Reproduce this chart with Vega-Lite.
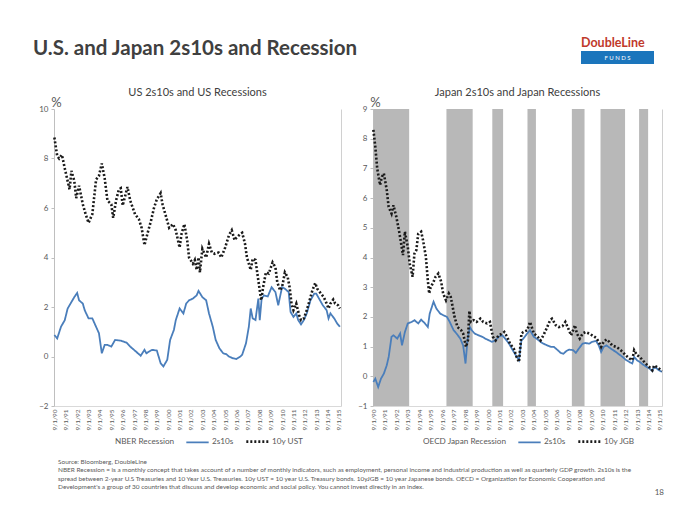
{
 "$schema": "https://vega.github.io/schema/vega-lite/v6.json",
 "background": "white",
 "padding": {"left": 33, "top": 36, "right": 5, "bottom": 5},
 "config": {
  "view": {"stroke": null},
  "font": "Lato",
  "axisX": {"labelAngle": 270, "labelFontSize": 6.5, "labelColor": "#595959", "ticks": false, "grid": false, "domainColor": "#d9d9d9", "labelPadding": 3, "labelOverlap": false, "labelFlush": false},
  "axisY": {"grid": false},
  "legend": {"title": null, "orient": "none", "direction": "horizontal", "symbolType": "stroke", "symbolSize": 500, "labelFontSize": 8.2, "labelColor": "#595959", "columnPadding": 7, "labelOffset": 2}
 },
 "datasets": {
  "us": [
   {"d":"1990/09/01","s":"2s10s","v":0.87},{"d":"1990/12/01","s":"2s10s","v":0.73},{"d":"1991/04/01","s":"2s10s","v":1.2},{"d":"1991/08/01","s":"2s10s","v":1.47},{"d":"1991/11/01","s":"2s10s","v":1.94},{"d":"1992/03/01","s":"2s10s","v":2.2},{"d":"1992/06/01","s":"2s10s","v":2.4},{"d":"1992/09/01","s":"2s10s","v":2.57},{"d":"1992/11/01","s":"2s10s","v":2.27},{"d":"1993/03/01","s":"2s10s","v":2.14},{"d":"1993/05/01","s":"2s10s","v":1.87},{"d":"1993/09/01","s":"2s10s","v":1.54},{"d":"1994/01/01","s":"2s10s","v":1.54},{"d":"1994/05/01","s":"2s10s","v":1.2},{"d":"1994/08/01","s":"2s10s","v":0.94},{"d":"1994/11/01","s":"2s10s","v":0.13},{"d":"1995/02/01","s":"2s10s","v":0.47},{"d":"1995/05/01","s":"2s10s","v":0.47},{"d":"1995/09/01","s":"2s10s","v":0.4},{"d":"1996/01/01","s":"2s10s","v":0.67},{"d":"1996/07/01","s":"2s10s","v":0.64},{"d":"1997/01/01","s":"2s10s","v":0.56},{"d":"1997/05/01","s":"2s10s","v":0.4},{"d":"1997/11/01","s":"2s10s","v":0.2},{"d":"1998/04/01","s":"2s10s","v":0.03},{"d":"1998/08/01","s":"2s10s","v":0.27},{"d":"1998/10/01","s":"2s10s","v":0.13},{"d":"1999/04/01","s":"2s10s","v":0.27},{"d":"1999/09/01","s":"2s10s","v":0.24},{"d":"2000/01/01","s":"2s10s","v":-0.27},{"d":"2000/04/01","s":"2s10s","v":-0.4},{"d":"2000/08/01","s":"2s10s","v":-0.13},{"d":"2000/11/01","s":"2s10s","v":0.67},{"d":"2001/03/01","s":"2s10s","v":1.07},{"d":"2001/05/01","s":"2s10s","v":1.47},{"d":"2001/09/01","s":"2s10s","v":1.94},{"d":"2002/01/01","s":"2s10s","v":1.74},{"d":"2002/04/01","s":"2s10s","v":2.14},{"d":"2002/07/01","s":"2s10s","v":2.27},{"d":"2002/11/01","s":"2s10s","v":2.34},{"d":"2003/03/01","s":"2s10s","v":2.47},{"d":"2003/05/01","s":"2s10s","v":2.65},{"d":"2003/09/01","s":"2s10s","v":2.4},{"d":"2004/01/01","s":"2s10s","v":2.27},{"d":"2004/04/01","s":"2s10s","v":1.74},{"d":"2004/08/01","s":"2s10s","v":1.2},{"d":"2004/11/01","s":"2s10s","v":0.67},{"d":"2005/03/01","s":"2s10s","v":0.33},{"d":"2005/07/01","s":"2s10s","v":0.13},{"d":"2005/10/01","s":"2s10s","v":0.1},{"d":"2006/01/01","s":"2s10s","v":0.0},{"d":"2006/05/01","s":"2s10s","v":-0.07},{"d":"2006/09/01","s":"2s10s","v":-0.1},{"d":"2007/01/01","s":"2s10s","v":0.0},{"d":"2007/03/01","s":"2s10s","v":0.07},{"d":"2007/07/01","s":"2s10s","v":0.53},{"d":"2007/10/01","s":"2s10s","v":1.2},{"d":"2007/12/01","s":"2s10s","v":1.94},{"d":"2008/02/01","s":"2s10s","v":1.54},{"d":"2008/05/01","s":"2s10s","v":1.47},{"d":"2008/08/01","s":"2s10s","v":2.34},{"d":"2008/09/15","s":"2s10s","v":1.47},{"d":"2008/11/15","s":"2s10s","v":2.34},{"d":"2009/02/01","s":"2s10s","v":2.47},{"d":"2009/06/01","s":"2s10s","v":2.43},{"d":"2009/10/01","s":"2s10s","v":2.8},{"d":"2010/02/01","s":"2s10s","v":2.6},{"d":"2010/05/01","s":"2s10s","v":2.07},{"d":"2010/09/01","s":"2s10s","v":2.8},{"d":"2010/12/01","s":"2s10s","v":2.74},{"d":"2011/04/01","s":"2s10s","v":2.6},{"d":"2011/06/01","s":"2s10s","v":1.8},{"d":"2011/09/01","s":"2s10s","v":1.6},{"d":"2011/12/01","s":"2s10s","v":1.74},{"d":"2012/02/01","s":"2s10s","v":1.47},{"d":"2012/05/01","s":"2s10s","v":1.3},{"d":"2012/08/01","s":"2s10s","v":1.47},{"d":"2012/11/01","s":"2s10s","v":1.74},{"d":"2013/03/01","s":"2s10s","v":2.27},{"d":"2013/07/01","s":"2s10s","v":2.54},{"d":"2013/09/01","s":"2s10s","v":2.54},{"d":"2014/01/01","s":"2s10s","v":2.27},{"d":"2014/04/01","s":"2s10s","v":2.07},{"d":"2014/08/01","s":"2s10s","v":1.87},{"d":"2014/10/01","s":"2s10s","v":1.54},{"d":"2014/12/01","s":"2s10s","v":1.74},{"d":"2015/04/01","s":"2s10s","v":1.54},{"d":"2015/07/01","s":"2s10s","v":1.34},{"d":"2015/10/01","s":"2s10s","v":1.2},
   {"d":"1990/09/01","s":"10y UST","v":8.85},{"d":"1990/12/01","s":"10y UST","v":8.1},{"d":"1991/02/01","s":"10y UST","v":8.0},{"d":"1991/05/01","s":"10y UST","v":8.15},{"d":"1991/08/01","s":"10y UST","v":7.6},{"d":"1992/01/01","s":"10y UST","v":6.75},{"d":"1992/03/01","s":"10y UST","v":7.5},{"d":"1992/06/01","s":"10y UST","v":7.1},{"d":"1992/08/01","s":"10y UST","v":6.4},{"d":"1992/11/01","s":"10y UST","v":6.9},{"d":"1993/03/01","s":"10y UST","v":6.15},{"d":"1993/06/01","s":"10y UST","v":5.75},{"d":"1993/09/01","s":"10y UST","v":5.4},{"d":"1994/01/01","s":"10y UST","v":5.75},{"d":"1994/05/01","s":"10y UST","v":7.15},{"d":"1994/08/01","s":"10y UST","v":7.3},{"d":"1994/11/01","s":"10y UST","v":7.8},{"d":"1995/02/01","s":"10y UST","v":7.2},{"d":"1995/05/01","s":"10y UST","v":6.3},{"d":"1995/09/01","s":"10y UST","v":6.15},{"d":"1995/11/01","s":"10y UST","v":5.6},{"d":"1996/02/01","s":"10y UST","v":6.3},{"d":"1996/05/01","s":"10y UST","v":6.75},{"d":"1996/07/01","s":"10y UST","v":6.8},{"d":"1996/09/01","s":"10y UST","v":6.1},{"d":"1997/02/01","s":"10y UST","v":6.85},{"d":"1997/05/01","s":"10y UST","v":6.3},{"d":"1997/10/01","s":"10y UST","v":5.75},{"d":"1998/02/01","s":"10y UST","v":5.55},{"d":"1998/05/01","s":"10y UST","v":5.2},{"d":"1998/08/01","s":"10y UST","v":4.5},{"d":"1998/11/01","s":"10y UST","v":4.95},{"d":"1999/03/01","s":"10y UST","v":5.5},{"d":"1999/06/01","s":"10y UST","v":6.0},{"d":"1999/09/01","s":"10y UST","v":6.35},{"d":"2000/01/01","s":"10y UST","v":6.6},{"d":"2000/03/01","s":"10y UST","v":6.15},{"d":"2000/06/01","s":"10y UST","v":5.75},{"d":"2000/10/01","s":"10y UST","v":5.2},{"d":"2001/02/01","s":"10y UST","v":5.35},{"d":"2001/05/01","s":"10y UST","v":5.1},{"d":"2001/09/01","s":"10y UST","v":4.4},{"d":"2001/11/01","s":"10y UST","v":4.95},{"d":"2002/02/01","s":"10y UST","v":5.35},{"d":"2002/05/01","s":"10y UST","v":4.7},{"d":"2002/07/01","s":"10y UST","v":4.0},{"d":"2002/11/01","s":"10y UST","v":3.75},{"d":"2003/01/01","s":"10y UST","v":3.9},{"d":"2003/03/01","s":"10y UST","v":3.5},{"d":"2003/05/01","s":"10y UST","v":4.0},{"d":"2003/06/15","s":"10y UST","v":3.4},{"d":"2003/09/01","s":"10y UST","v":4.35},{"d":"2004/01/01","s":"10y UST","v":4.0},{"d":"2004/04/01","s":"10y UST","v":4.55},{"d":"2004/07/01","s":"10y UST","v":4.2},{"d":"2004/10/01","s":"10y UST","v":4.15},{"d":"2005/02/01","s":"10y UST","v":4.2},{"d":"2005/05/01","s":"10y UST","v":4.0},{"d":"2005/09/01","s":"10y UST","v":4.4},{"d":"2006/01/01","s":"10y UST","v":4.9},{"d":"2006/04/01","s":"10y UST","v":5.1},{"d":"2006/07/01","s":"10y UST","v":4.7},{"d":"2006/09/01","s":"10y UST","v":4.8},{"d":"2007/01/01","s":"10y UST","v":4.95},{"d":"2007/03/01","s":"10y UST","v":5.0},{"d":"2007/06/01","s":"10y UST","v":4.55},{"d":"2007/08/01","s":"10y UST","v":4.0},{"d":"2007/12/01","s":"10y UST","v":3.5},{"d":"2008/02/01","s":"10y UST","v":3.95},{"d":"2008/05/01","s":"10y UST","v":3.9},{"d":"2008/07/01","s":"10y UST","v":3.35},{"d":"2008/09/01","s":"10y UST","v":2.8},{"d":"2008/11/01","s":"10y UST","v":2.27},{"d":"2009/01/01","s":"10y UST","v":2.8},{"d":"2009/04/01","s":"10y UST","v":3.4},{"d":"2009/07/01","s":"10y UST","v":3.35},{"d":"2009/11/01","s":"10y UST","v":3.8},{"d":"2010/02/01","s":"10y UST","v":3.6},{"d":"2010/04/01","s":"10y UST","v":3.0},{"d":"2010/07/01","s":"10y UST","v":2.67},{"d":"2010/09/01","s":"10y UST","v":2.8},{"d":"2010/12/01","s":"10y UST","v":3.4},{"d":"2011/03/01","s":"10y UST","v":3.2},{"d":"2011/05/01","s":"10y UST","v":2.8},{"d":"2011/07/01","s":"10y UST","v":2.14},{"d":"2011/09/01","s":"10y UST","v":1.87},{"d":"2011/12/01","s":"10y UST","v":2.14},{"d":"2012/03/01","s":"10y UST","v":1.67},{"d":"2012/05/01","s":"10y UST","v":1.47},{"d":"2012/08/01","s":"10y UST","v":1.54},{"d":"2012/11/01","s":"10y UST","v":1.87},{"d":"2013/02/01","s":"10y UST","v":2.27},{"d":"2013/05/01","s":"10y UST","v":2.67},{"d":"2013/08/01","s":"10y UST","v":2.97},{"d":"2013/10/01","s":"10y UST","v":2.74},{"d":"2014/02/01","s":"10y UST","v":2.54},{"d":"2014/05/01","s":"10y UST","v":2.4},{"d":"2014/08/01","s":"10y UST","v":2.14},{"d":"2014/10/01","s":"10y UST","v":1.94},{"d":"2014/12/01","s":"10y UST","v":2.14},{"d":"2015/03/01","s":"10y UST","v":2.3},{"d":"2015/05/01","s":"10y UST","v":2.14},{"d":"2015/08/01","s":"10y UST","v":2.07},{"d":"2015/10/01","s":"10y UST","v":1.94}
  ],
  "jp": [
   {"d":"1990/09/01","s":"2s10s","v":-0.19},{"d":"1990/11/01","s":"2s10s","v":-0.08},{"d":"1991/02/01","s":"2s10s","v":-0.36},{"d":"1991/05/01","s":"2s10s","v":-0.08},{"d":"1991/08/01","s":"2s10s","v":0.09},{"d":"1991/11/01","s":"2s10s","v":0.37},{"d":"1992/01/01","s":"2s10s","v":0.65},{"d":"1992/04/01","s":"2s10s","v":1.33},{"d":"1992/06/01","s":"2s10s","v":1.38},{"d":"1992/10/01","s":"2s10s","v":1.27},{"d":"1993/01/01","s":"2s10s","v":1.44},{"d":"1993/03/01","s":"2s10s","v":1.04},{"d":"1993/06/01","s":"2s10s","v":1.49},{"d":"1993/09/01","s":"2s10s","v":1.78},{"d":"1994/01/01","s":"2s10s","v":1.83},{"d":"1994/04/01","s":"2s10s","v":1.89},{"d":"1994/08/01","s":"2s10s","v":1.78},{"d":"1994/11/01","s":"2s10s","v":1.91},{"d":"1995/03/01","s":"2s10s","v":1.78},{"d":"1995/06/01","s":"2s10s","v":1.66},{"d":"1995/08/01","s":"2s10s","v":2.11},{"d":"1995/12/01","s":"2s10s","v":2.51},{"d":"1996/03/01","s":"2s10s","v":2.28},{"d":"1996/07/01","s":"2s10s","v":2.11},{"d":"1996/10/01","s":"2s10s","v":2.06},{"d":"1997/02/01","s":"2s10s","v":2.0},{"d":"1997/05/01","s":"2s10s","v":1.83},{"d":"1997/09/01","s":"2s10s","v":1.55},{"d":"1997/12/01","s":"2s10s","v":1.44},{"d":"1998/04/01","s":"2s10s","v":1.27},{"d":"1998/07/01","s":"2s10s","v":1.04},{"d":"1998/09/15","s":"2s10s","v":0.43},{"d":"1998/11/15","s":"2s10s","v":1.21},{"d":"1999/02/01","s":"2s10s","v":1.66},{"d":"1999/04/01","s":"2s10s","v":1.55},{"d":"1999/07/01","s":"2s10s","v":1.44},{"d":"1999/11/01","s":"2s10s","v":1.38},{"d":"2000/03/01","s":"2s10s","v":1.33},{"d":"2000/06/01","s":"2s10s","v":1.27},{"d":"2000/10/01","s":"2s10s","v":1.21},{"d":"2001/01/01","s":"2s10s","v":1.16},{"d":"2001/05/01","s":"2s10s","v":1.21},{"d":"2001/08/01","s":"2s10s","v":1.33},{"d":"2001/12/01","s":"2s10s","v":1.38},{"d":"2002/03/01","s":"2s10s","v":1.27},{"d":"2002/07/01","s":"2s10s","v":1.1},{"d":"2002/10/01","s":"2s10s","v":0.93},{"d":"2003/02/01","s":"2s10s","v":0.71},{"d":"2003/05/15","s":"2s10s","v":0.54},{"d":"2003/08/01","s":"2s10s","v":1.21},{"d":"2003/10/01","s":"2s10s","v":1.27},{"d":"2004/02/01","s":"2s10s","v":1.44},{"d":"2004/05/01","s":"2s10s","v":1.55},{"d":"2004/09/01","s":"2s10s","v":1.33},{"d":"2005/01/01","s":"2s10s","v":1.24},{"d":"2005/04/01","s":"2s10s","v":1.16},{"d":"2005/07/01","s":"2s10s","v":1.1},{"d":"2005/11/01","s":"2s10s","v":1.04},{"d":"2006/03/01","s":"2s10s","v":0.99},{"d":"2006/06/01","s":"2s10s","v":0.99},{"d":"2006/10/01","s":"2s10s","v":0.88},{"d":"2007/01/01","s":"2s10s","v":0.79},{"d":"2007/04/01","s":"2s10s","v":0.76},{"d":"2007/07/01","s":"2s10s","v":0.85},{"d":"2007/10/01","s":"2s10s","v":0.9},{"d":"2008/02/01","s":"2s10s","v":0.88},{"d":"2008/05/01","s":"2s10s","v":0.79},{"d":"2008/08/01","s":"2s10s","v":0.93},{"d":"2008/12/01","s":"2s10s","v":1.1},{"d":"2009/03/01","s":"2s10s","v":1.12},{"d":"2009/07/01","s":"2s10s","v":1.1},{"d":"2009/10/01","s":"2s10s","v":1.16},{"d":"2010/02/01","s":"2s10s","v":1.19},{"d":"2010/05/01","s":"2s10s","v":1.04},{"d":"2010/07/15","s":"2s10s","v":0.82},{"d":"2010/10/01","s":"2s10s","v":0.99},{"d":"2011/01/01","s":"2s10s","v":1.04},{"d":"2011/04/01","s":"2s10s","v":0.97},{"d":"2011/07/01","s":"2s10s","v":0.9},{"d":"2011/11/01","s":"2s10s","v":0.82},{"d":"2012/02/01","s":"2s10s","v":0.74},{"d":"2012/06/01","s":"2s10s","v":0.65},{"d":"2012/09/01","s":"2s10s","v":0.56},{"d":"2013/01/01","s":"2s10s","v":0.48},{"d":"2013/04/01","s":"2s10s","v":0.43},{"d":"2013/06/01","s":"2s10s","v":0.65},{"d":"2013/09/01","s":"2s10s","v":0.54},{"d":"2013/12/01","s":"2s10s","v":0.48},{"d":"2014/03/01","s":"2s10s","v":0.4},{"d":"2014/06/01","s":"2s10s","v":0.34},{"d":"2014/10/01","s":"2s10s","v":0.26},{"d":"2015/01/01","s":"2s10s","v":0.18},{"d":"2015/03/01","s":"2s10s","v":0.31},{"d":"2015/06/01","s":"2s10s","v":0.26},{"d":"2015/08/01","s":"2s10s","v":0.2},{"d":"2015/11/01","s":"2s10s","v":0.15},
   {"d":"1990/09/01","s":"10y JGB","v":8.3},{"d":"1990/11/01","s":"10y JGB","v":7.73},{"d":"1991/01/01","s":"10y JGB","v":7.0},{"d":"1991/04/01","s":"10y JGB","v":6.44},{"d":"1991/06/01","s":"10y JGB","v":6.72},{"d":"1991/08/01","s":"10y JGB","v":6.83},{"d":"1991/11/01","s":"10y JGB","v":6.27},{"d":"1992/01/01","s":"10y JGB","v":5.7},{"d":"1992/04/01","s":"10y JGB","v":5.48},{"d":"1992/06/01","s":"10y JGB","v":5.76},{"d":"1992/09/01","s":"10y JGB","v":5.37},{"d":"1992/12/01","s":"10y JGB","v":4.87},{"d":"1993/02/01","s":"10y JGB","v":4.47},{"d":"1993/04/01","s":"10y JGB","v":4.08},{"d":"1993/06/01","s":"10y JGB","v":4.87},{"d":"1993/09/01","s":"10y JGB","v":4.36},{"d":"1993/11/01","s":"10y JGB","v":3.8},{"d":"1994/02/01","s":"10y JGB","v":3.35},{"d":"1994/04/01","s":"10y JGB","v":4.13},{"d":"1994/06/01","s":"10y JGB","v":4.25},{"d":"1994/08/01","s":"10y JGB","v":4.8},{"d":"1994/11/01","s":"10y JGB","v":4.87},{"d":"1995/01/01","s":"10y JGB","v":4.58},{"d":"1995/04/01","s":"10y JGB","v":4.02},{"d":"1995/06/01","s":"10y JGB","v":3.24},{"d":"1995/07/15","s":"10y JGB","v":2.79},{"d":"1995/09/01","s":"10y JGB","v":3.0},{"d":"1995/12/01","s":"10y JGB","v":3.18},{"d":"1996/02/01","s":"10y JGB","v":3.35},{"d":"1996/05/01","s":"10y JGB","v":3.46},{"d":"1996/08/01","s":"10y JGB","v":3.18},{"d":"1996/10/01","s":"10y JGB","v":2.79},{"d":"1997/01/01","s":"10y JGB","v":2.56},{"d":"1997/04/01","s":"10y JGB","v":2.79},{"d":"1997/06/01","s":"10y JGB","v":2.67},{"d":"1997/08/01","s":"10y JGB","v":2.34},{"d":"1997/10/01","s":"10y JGB","v":2.0},{"d":"1998/01/01","s":"10y JGB","v":1.66},{"d":"1998/05/01","s":"10y JGB","v":1.55},{"d":"1998/07/01","s":"10y JGB","v":1.44},{"d":"1998/10/01","s":"10y JGB","v":0.99},{"d":"1998/12/01","s":"10y JGB","v":1.21},{"d":"1999/01/15","s":"10y JGB","v":2.2},{"d":"1999/03/01","s":"10y JGB","v":1.83},{"d":"1999/06/01","s":"10y JGB","v":1.89},{"d":"1999/09/01","s":"10y JGB","v":1.83},{"d":"2000/01/01","s":"10y JGB","v":1.94},{"d":"2000/04/01","s":"10y JGB","v":1.83},{"d":"2000/08/01","s":"10y JGB","v":1.78},{"d":"2000/11/01","s":"10y JGB","v":1.83},{"d":"2001/02/01","s":"10y JGB","v":1.33},{"d":"2001/05/01","s":"10y JGB","v":1.21},{"d":"2001/08/01","s":"10y JGB","v":1.38},{"d":"2001/12/01","s":"10y JGB","v":1.44},{"d":"2002/02/01","s":"10y JGB","v":1.49},{"d":"2002/05/01","s":"10y JGB","v":1.33},{"d":"2002/08/01","s":"10y JGB","v":1.1},{"d":"2002/12/01","s":"10y JGB","v":0.93},{"d":"2003/03/01","s":"10y JGB","v":0.65},{"d":"2003/05/15","s":"10y JGB","v":0.48},{"d":"2003/08/01","s":"10y JGB","v":1.44},{"d":"2003/10/01","s":"10y JGB","v":1.49},{"d":"2004/02/01","s":"10y JGB","v":1.55},{"d":"2004/05/01","s":"10y JGB","v":1.83},{"d":"2004/09/01","s":"10y JGB","v":1.44},{"d":"2005/01/01","s":"10y JGB","v":1.33},{"d":"2005/04/01","s":"10y JGB","v":1.21},{"d":"2005/07/01","s":"10y JGB","v":1.38},{"d":"2005/11/01","s":"10y JGB","v":1.66},{"d":"2006/02/01","s":"10y JGB","v":1.89},{"d":"2006/04/01","s":"10y JGB","v":1.94},{"d":"2006/08/01","s":"10y JGB","v":1.72},{"d":"2006/11/01","s":"10y JGB","v":1.66},{"d":"2007/03/01","s":"10y JGB","v":1.69},{"d":"2007/06/01","s":"10y JGB","v":1.83},{"d":"2007/09/01","s":"10y JGB","v":1.61},{"d":"2007/12/01","s":"10y JGB","v":1.38},{"d":"2008/02/01","s":"10y JGB","v":1.55},{"d":"2008/04/01","s":"10y JGB","v":1.72},{"d":"2008/06/01","s":"10y JGB","v":1.44},{"d":"2008/09/01","s":"10y JGB","v":1.27},{"d":"2008/12/01","s":"10y JGB","v":1.44},{"d":"2009/03/01","s":"10y JGB","v":1.49},{"d":"2009/07/01","s":"10y JGB","v":1.44},{"d":"2009/10/01","s":"10y JGB","v":1.38},{"d":"2010/02/01","s":"10y JGB","v":1.3},{"d":"2010/05/01","s":"10y JGB","v":1.16},{"d":"2010/07/15","s":"10y JGB","v":0.99},{"d":"2010/10/01","s":"10y JGB","v":1.16},{"d":"2011/01/01","s":"10y JGB","v":1.24},{"d":"2011/04/01","s":"10y JGB","v":1.16},{"d":"2011/07/01","s":"10y JGB","v":1.04},{"d":"2011/11/01","s":"10y JGB","v":0.99},{"d":"2012/02/01","s":"10y JGB","v":0.93},{"d":"2012/06/01","s":"10y JGB","v":0.82},{"d":"2012/09/01","s":"10y JGB","v":0.71},{"d":"2013/01/01","s":"10y JGB","v":0.6},{"d":"2013/04/01","s":"10y JGB","v":0.54},{"d":"2013/06/01","s":"10y JGB","v":0.88},{"d":"2013/09/01","s":"10y JGB","v":0.71},{"d":"2013/12/01","s":"10y JGB","v":0.65},{"d":"2014/03/01","s":"10y JGB","v":0.54},{"d":"2014/06/01","s":"10y JGB","v":0.43},{"d":"2014/10/01","s":"10y JGB","v":0.31},{"d":"2015/01/01","s":"10y JGB","v":0.2},{"d":"2015/03/01","s":"10y JGB","v":0.37},{"d":"2015/06/01","s":"10y JGB","v":0.31},{"d":"2015/08/01","s":"10y JGB","v":0.26},{"d":"2015/11/01","s":"10y JGB","v":0.18}
  ],
  "jpRec": [
   {"a":"1990/09/01","b":"1993/10/15"},{"a":"1997/01/15","b":"1999/05/01"},{"a":"2001/01/15","b":"2001/12/25"},{"a":"2004/02/10","b":"2004/11/05"},{"a":"2007/12/25","b":"2009/02/01"},{"a":"2010/06/25","b":"2012/08/15"},{"a":"2013/11/05","b":"2014/08/20"}
  ],
  "notes": [
   {"line": 1, "t": "Source: Bloomberg, DoubleLine"},
   {"line": 2, "t": "NBER Recession = is a monthly concept that takes account of a number of monthly indicators, such as employment, personal income and industrial production as well as quarterly GDP growth. 2s10s is the"},
   {"line": 3, "t": "spread between 2-year U.S Treasuries and 10 Year U.S. Treasuries. 10y UST = 10 year U.S. Treasury bonds. 10yJGB = 10 year Japanese bonds. OECD = Organization for Economic Cooperation and"},
   {"line": 4, "t": "Development's a group of 30 countries that discuss and develop economic and social policy. You cannot invest directly in an index."}
  ]
 },
 "vconcat": [
  {
   "hconcat": [
    {
     "width": 517, "height": 13,
     "title": {"text": "U.S. and Japan 2s10s and Recession", "anchor": "start", "fontSize": 20.5, "fontWeight": "bold", "color": "#404040", "offset": -8, "dx": -21},
     "data": {"values": []},
     "mark": "text"
    },
    {
     "width": 73, "height": 13,
     "view": {"fill": "#1b75bc", "stroke": null},
     "title": {"text": "DoubleLine", "anchor": "start", "fontSize": 12.5, "fontWeight": "bold", "color": "#c0392b", "offset": 2},
     "data": {"values": [{"t": "F    U    N    D    S"}]},
     "mark": {"type": "text", "color": "white", "fontSize": 6},
     "encoding": {"text": {"field": "t"}}
    }
   ],
   "spacing": 10
  },
  {
   "vconcat": [
    {
     "hconcat": [
      {
       "width": 287, "height": 297,
       "title": {"text": "US 2s10s and US Recessions", "fontSize": 11, "fontWeight": "normal", "color": "#404040", "offset": -2},
       "layer": [
        {
         "mark": {"type": "rule", "color": "#a6a6a6", "strokeWidth": 0.8},
         "encoding": {"y": {"datum": 0, "type": "quantitative", "axis": {"orient": "right", "labels": false, "ticks": false, "title": null, "grid": false, "domainColor": "#d0d0d0"}}}
        },
        {
         "data": {"name": "us"},
         "mark": {"type": "line", "strokeCap": "butt"},
         "encoding": {
          "x": {"field": "d", "type": "temporal",
                "scale": {"domain": [{"year": 1990, "month": 8, "date": 20}, {"year": 2015, "month": 11, "date": 5}]},
                "axis": {"title": null, "format": "%-m/%-d/%y", "values": [{"year":1990,"month":9,"date":1},{"year":1991,"month":9,"date":1},{"year":1992,"month":9,"date":1},{"year":1993,"month":9,"date":1},{"year":1994,"month":9,"date":1},{"year":1995,"month":9,"date":1},{"year":1996,"month":9,"date":1},{"year":1997,"month":9,"date":1},{"year":1998,"month":9,"date":1},{"year":1999,"month":9,"date":1},{"year":2000,"month":9,"date":1},{"year":2001,"month":9,"date":1},{"year":2002,"month":9,"date":1},{"year":2003,"month":9,"date":1},{"year":2004,"month":9,"date":1},{"year":2005,"month":9,"date":1},{"year":2006,"month":9,"date":1},{"year":2007,"month":9,"date":1},{"year":2008,"month":9,"date":1},{"year":2009,"month":9,"date":1},{"year":2010,"month":9,"date":1},{"year":2011,"month":9,"date":1},{"year":2012,"month":9,"date":1},{"year":2013,"month":9,"date":1},{"year":2014,"month":9,"date":1},{"year":2015,"month":9,"date":1}]}},
          "y": {"field": "v", "type": "quantitative", "scale": {"domain": [-2, 10], "nice": false},
                "axis": {"values": [-2, 0, 2, 4, 6, 8, 10], "title": "%", "titleAngle": 0, "titleX": 2, "titleY": -3, "titleAlign": "center", "titleBaseline": "alphabetic", "titleFontSize": 13, "titleFontWeight": "normal", "titleColor": "#595959", "labelFontSize": 8, "labelColor": "#595959", "tickSize": 3, "tickColor": "#bfbfbf", "domainColor": "#bfbfbf", "grid": false, "labelPadding": 3}},
          "color": {"field": "s", "type": "nominal", "scale": {"domain": ["NBER Recession", "2s10s", "10y UST"], "range": ["rgba(255,255,255,0)", "#4a7ebb", "#1a1a1a"]}, "legend": {"legendX": 35, "legendY": 320}},
          "strokeDash": {"field": "s", "type": "nominal", "scale": {"domain": ["NBER Recession", "2s10s", "10y UST"], "range": [[1, 0], [1, 0], [2, 2]]}, "legend": {"legendX": 35, "legendY": 320}},
          "strokeWidth": {"field": "s", "type": "ordinal", "scale": {"domain": ["NBER Recession", "2s10s", "10y UST"], "range": [1, 2.6, 2]}, "legend": {"legendX": 35, "legendY": 320}}
         }
        }
       ],
       "resolve": {"axis": {"y": "independent"}}
      },
      {
       "width": 289, "height": 297,
       "title": {"text": "Japan 2s10s and Japan Recessions", "fontSize": 11, "fontWeight": "normal", "color": "#404040", "offset": -2},
       "layer": [
        {
         "data": {"name": "jpRec"},
         "mark": {"type": "rect", "color": "#b8b8b8"},
         "encoding": {
          "x": {"field": "a", "type": "temporal",
                "scale": {"domain": [{"year": 1990, "month": 8, "date": 20}, {"year": 2015, "month": 11, "date": 5}]},
                "axis": {"title": null, "format": "%-m/%-d/%y", "values": [{"year":1990,"month":9,"date":1},{"year":1991,"month":9,"date":1},{"year":1992,"month":9,"date":1},{"year":1993,"month":9,"date":1},{"year":1994,"month":9,"date":1},{"year":1995,"month":9,"date":1},{"year":1996,"month":9,"date":1},{"year":1997,"month":9,"date":1},{"year":1998,"month":9,"date":1},{"year":1999,"month":9,"date":1},{"year":2000,"month":9,"date":1},{"year":2001,"month":9,"date":1},{"year":2002,"month":9,"date":1},{"year":2003,"month":9,"date":1},{"year":2004,"month":9,"date":1},{"year":2005,"month":9,"date":1},{"year":2006,"month":9,"date":1},{"year":2007,"month":9,"date":1},{"year":2008,"month":9,"date":1},{"year":2009,"month":9,"date":1},{"year":2010,"month":9,"date":1},{"year":2011,"month":9,"date":1},{"year":2012,"month":9,"date":1},{"year":2013,"month":9,"date":1},{"year":2014,"month":9,"date":1},{"year":2015,"month":9,"date":1}]}},
          "x2": {"field": "b"}
         }
        },
        {
         "mark": {"type": "rule", "color": "#a6a6a6", "strokeWidth": 0.8},
         "encoding": {"y": {"datum": 0, "type": "quantitative", "axis": {"orient": "right", "labels": false, "ticks": false, "title": null, "grid": false, "domainColor": "#d0d0d0"}}}
        },
        {
         "data": {"name": "jp"},
         "mark": {"type": "line", "strokeCap": "butt"},
         "encoding": {
          "x": {"field": "d", "type": "temporal",
                "axis": {"title": null, "format": "%-m/%-d/%y", "values": [{"year":1990,"month":9,"date":1},{"year":1991,"month":9,"date":1},{"year":1992,"month":9,"date":1},{"year":1993,"month":9,"date":1},{"year":1994,"month":9,"date":1},{"year":1995,"month":9,"date":1},{"year":1996,"month":9,"date":1},{"year":1997,"month":9,"date":1},{"year":1998,"month":9,"date":1},{"year":1999,"month":9,"date":1},{"year":2000,"month":9,"date":1},{"year":2001,"month":9,"date":1},{"year":2002,"month":9,"date":1},{"year":2003,"month":9,"date":1},{"year":2004,"month":9,"date":1},{"year":2005,"month":9,"date":1},{"year":2006,"month":9,"date":1},{"year":2007,"month":9,"date":1},{"year":2008,"month":9,"date":1},{"year":2009,"month":9,"date":1},{"year":2010,"month":9,"date":1},{"year":2011,"month":9,"date":1},{"year":2012,"month":9,"date":1},{"year":2013,"month":9,"date":1},{"year":2014,"month":9,"date":1},{"year":2015,"month":9,"date":1}]}},
          "y": {"field": "v", "type": "quantitative", "scale": {"domain": [-1, 9], "nice": false},
                "axis": {"values": [-1, 0, 1, 2, 3, 4, 5, 6, 7, 8, 9], "title": "%", "titleAngle": 0, "titleX": 2, "titleY": -3, "titleAlign": "center", "titleBaseline": "alphabetic", "titleFontSize": 13, "titleFontWeight": "normal", "titleColor": "#595959", "labelFontSize": 8, "labelColor": "#595959", "tickSize": 3, "tickColor": "#bfbfbf", "domainColor": "#bfbfbf", "grid": false, "labelPadding": 3}},
          "color": {"field": "s", "type": "nominal", "scale": {"domain": ["OECD Japan Recession", "2s10s", "10y JGB"], "range": ["rgba(255,255,255,0)", "#4a7ebb", "#1a1a1a"]}, "legend": {"legendX": 24, "legendY": 320}},
          "strokeDash": {"field": "s", "type": "nominal", "scale": {"domain": ["OECD Japan Recession", "2s10s", "10y JGB"], "range": [[1, 0], [1, 0], [2, 2]]}, "legend": {"legendX": 24, "legendY": 320}},
          "strokeWidth": {"field": "s", "type": "ordinal", "scale": {"domain": ["OECD Japan Recession", "2s10s", "10y JGB"], "range": [1, 2.6, 2]}, "legend": {"legendX": 24, "legendY": 320}}
         }
        }
       ],
       "resolve": {"axis": {"y": "independent"}}
      }
     ],
     "spacing": 11,
     "resolve": {
      "scale": {"color": "independent", "strokeDash": "independent", "strokeWidth": "independent"},
      "legend": {"color": "independent", "strokeDash": "independent", "strokeWidth": "independent"}
     }
    },
    {
     "width": 610, "height": 42.5,
     "data": {"name": "notes"},
     "layer": [
      {
       "mark": {"type": "text", "align": "left", "baseline": "middle", "fontSize": 6.45, "color": "#595959"},
       "encoding": {
        "x": {"datum": 0.0066, "type": "quantitative", "scale": {"domain": [0, 1], "nice": false, "zero": false}, "axis": null},
        "y": {"field": "line", "type": "quantitative", "scale": {"domain": [0, 5], "nice": false, "reverse": true}, "axis": null},
        "text": {"field": "t"}
       }
      },
      {
       "data": {"values": [{"p": "18"}]},
       "mark": {"type": "text", "align": "right", "baseline": "middle", "fontSize": 8, "color": "#595959"},
       "encoding": {
        "x": {"datum": 1.0, "type": "quantitative"},
        "y": {"datum": 4.65, "type": "quantitative"},
        "text": {"field": "p"}
       }
      }
     ]
    }
   ],
   "spacing": 6
  }
 ],
 "spacing": 23
}
